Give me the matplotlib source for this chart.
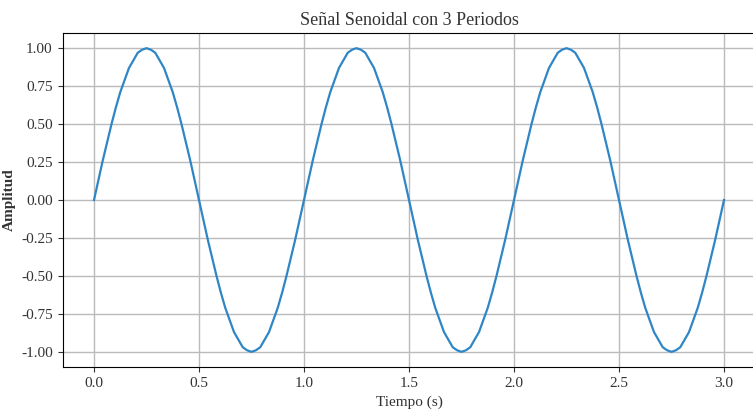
import numpy as np
import matplotlib.pyplot as plt

# half period of the signal, read every 1/48 s (amplitude 1, period 1 s)
period_s = 1.0
n_periods = 3
half_period = [0.00, 0.13, 0.26, 0.38, 0.50, 0.61, 0.71, 0.79, 0.87, 0.92, 0.97, 0.99,
               1.00, 0.99, 0.97, 0.92, 0.87, 0.79, 0.71, 0.61, 0.50, 0.38, 0.26, 0.13]
one_period = half_period + [-v for v in half_period]

amplitud = np.array(one_period * n_periods + [0.00])
tiempo = np.linspace(0, n_periods * period_s, len(amplitud))

xticks = [0.0, 0.5, 1.0, 1.5, 2.0, 2.5, 3.0]
yticks = [-1.00, -0.75, -0.50, -0.25, 0.00, 0.25, 0.50, 0.75, 1.00]

plt.rcParams['font.family'] = ['Liberation Serif', 'DejaVu Serif']

fig = plt.figure(figsize=(7.53, 4.15), dpi=100)
ax = fig.add_axes([62.5 / 753, 48 / 415, 693 / 753, 334 / 415])

ax.plot(tiempo, amplitud, color='#2e86c6', lw=1.6)
ax.set_xticks(xticks)
ax.set_xticklabels([f'{v:.1f}' for v in xticks])
ax.set_yticks(yticks)
ax.set_yticklabels([f'{v:.2f}' for v in yticks])
ax.tick_params(labelsize=11, colors='#333333', labelcolor='#333333')
ax.grid(True, color='#bbbbbb', lw=1)

ax.set_title('Señal Senoidal con 3 Periodos', fontsize=13, color='#333333')
ax.set_xlabel('Tiempo (s)', fontsize=11, color='#333333')
ax.set_ylabel('Amplitud', fontsize=11, fontweight='bold', color='#333333')

fig.savefig('out.png', dpi=100)
